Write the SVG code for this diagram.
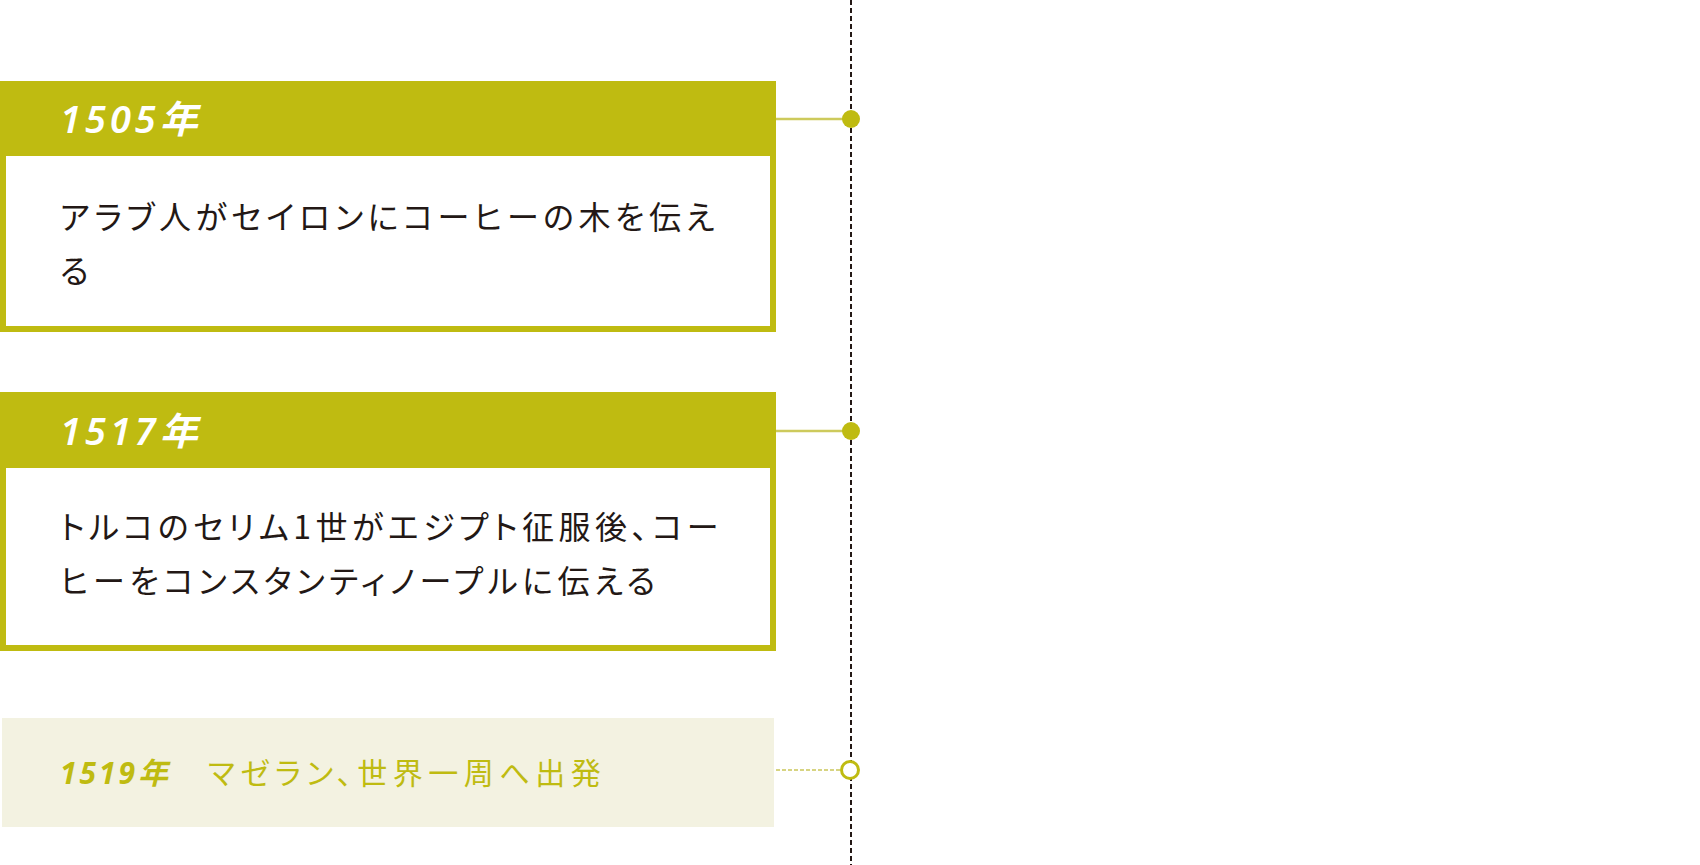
<svg xmlns="http://www.w3.org/2000/svg" width="1700" height="865" viewBox="0 0 1700 865">
<style>
.frame{fill:#ffffff;stroke:#bfbb11;stroke-width:6}
.band{fill:#bfbb11}
.year{font-family:"Noto Sans","Noto Sans CJK JP",sans-serif;font-weight:600;font-style:italic;font-size:38px;letter-spacing:4px;fill:#ffffff}
.body{font-family:"Noto Sans CJK JP","Noto Sans",sans-serif;font-size:32px;letter-spacing:4.5px;font-feature-settings:"palt";fill:#231815}
.minor{font-family:"Noto Sans CJK JP","Noto Sans",sans-serif;font-size:30px;letter-spacing:5.5px;font-feature-settings:"palt";fill:#bfbb11}
.minoryear{font-family:"Noto Sans","Noto Sans CJK JP",sans-serif;font-weight:700;font-style:italic;letter-spacing:3px}
.link{stroke:#cdca5c;stroke-width:2.5;fill:none}
.dot{fill:#bfbb11}
</style>
<rect width="1700" height="865" fill="#ffffff"/>
<g id="connectors">
<line x1="851" y1="0" x2="851" y2="865" stroke="#231815" stroke-width="2" stroke-dasharray="5 3"/>
<line class="link" x1="776" y1="119" x2="845" y2="119"/>
<line class="link" x1="776" y1="431" x2="845" y2="431"/>
<line x1="776" y1="770" x2="842" y2="770" stroke="#d7d482" stroke-width="2" stroke-dasharray="4 2"/>
<circle class="dot" cx="851" cy="119" r="9"/>
<circle class="dot" cx="851" cy="431" r="9"/>
<circle cx="850" cy="770" r="8.5" fill="#ffffff" stroke="#bfbb11" stroke-width="3"/>
</g>
<g id="node-1505">
<rect class="frame" x="3" y="84" width="770" height="245"/>
<rect class="band" x="0" y="81" width="776" height="75"/>
<text class="year" x="60" y="133">1505年</text>
<text class="body" x="60" y="229">アラブ人がセイロンにコーヒーの木を伝え</text>
<text class="body" x="60" y="283">る</text>
</g>
<g id="node-1517">
<rect class="frame" x="3" y="395" width="770" height="253"/>
<rect class="band" x="0" y="392" width="776" height="76"/>
<text class="year" x="60" y="445">1517年</text>
<text class="body" x="60" y="539">トルコのセリム1世がエジプト征服後、コー</text>
<text class="body" x="60" y="593">ヒーをコンスタンティノープルに伝える</text>
</g>
<g id="node-1519">
<rect x="2" y="718" width="772" height="109" fill="#f3f2e1"/>
<text class="minor" y="784"><tspan class="minoryear" x="60">1519年</tspan><tspan x="208">マゼラン、世界一周へ出発</tspan></text>
</g>
</svg>
